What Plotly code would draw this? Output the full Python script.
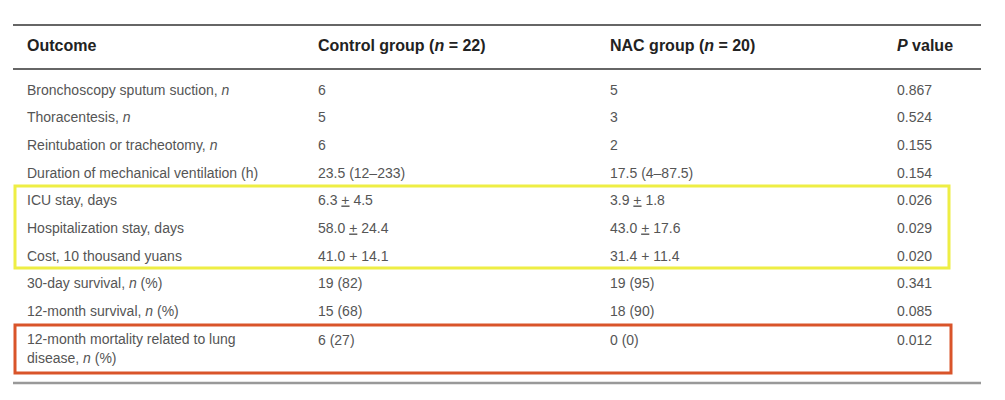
import plotly.graph_objects as go

headers = ["Outcome", "Control group (<i>n</i> = 22)", "NAC group (<i>n</i> = 20)", "<i>P</i> value"]
outcomes = ["Bronchoscopy sputum suction, <i>n</i>", "Thoracentesis, <i>n</i>", "Reintubation or tracheotomy, <i>n</i>",
            "Duration of mechanical ventilation (h)", "ICU stay, days", "Hospitalization stay, days",
            "Cost, 10 thousand yuans", "30-day survival, <i>n</i> (%)", "12-month survival, <i>n</i> (%)",
            "12-month mortality related to lung<br>disease, <i>n</i> (%)"]
control = ["6", "5", "6", "23.5 (12–233)", "6.3 <u>+</u> 4.5", "58.0 <u>+</u> 24.4", "41.0 + 14.1", "19 (82)", "15 (68)", "6 (27)"]
nac = ["5", "3", "2", "17.5 (4–87.5)", "3.9 <u>+</u> 1.8", "43.0 <u>+</u> 17.6", "31.4 + 11.4", "19 (95)", "18 (90)", "0 (0)"]
pvals = ["0.867", "0.524", "0.155", "0.154", "0.026", "0.029", "0.020", "0.341", "0.085", "0.012"]

col_x = [27, 318, 610, 897]
row_y = [91, 118, 146, 174, 201, 229, 257, 284, 312, 341]
outcome_y = row_y[:-1] + [350]

fig = go.Figure()
fig.add_trace(go.Scatter(x=col_x, y=[47]*4, mode="text", text=[f"<b>{h}</b>" for h in headers],
                         textposition="middle right", textfont=dict(family="Liberation Sans", size=16, color="#222"),
                         hoverinfo="skip"))
for cx, col, ys in zip(col_x, [outcomes, control, nac, pvals], [outcome_y, row_y, row_y, row_y]):
    fig.add_trace(go.Scatter(x=[cx]*len(col), y=ys, mode="text", text=col, textposition="middle right",
                             textfont=dict(family="Liberation Sans", size=14, color="#555"), hoverinfo="skip"))
fig.add_shape(type="line", x0=13, x1=981, y0=25, y1=25, line=dict(color="#666", width=2))
fig.add_shape(type="line", x0=13, x1=981, y0=69, y1=69, line=dict(color="#666", width=2))
fig.add_shape(type="line", x0=13, x1=981, y0=383, y1=383, line=dict(color="#999", width=2.5))
fig.add_shape(type="rect", x0=15, x1=949, y0=186, y1=268, line=dict(color="#eeee44", width=3))
fig.add_shape(type="rect", x0=15, x1=951, y0=325, y1=373, line=dict(color="#d9542a", width=3))

fig.update_layout(width=1005, height=400, margin=dict(l=0, r=0, t=0, b=0), showlegend=False,
                  plot_bgcolor="white", paper_bgcolor="white",
                  xaxis=dict(range=[8, 1013], visible=False, fixedrange=True),
                  yaxis=dict(range=[408, 8], visible=False, fixedrange=True))
fig.write_html("out.html")
